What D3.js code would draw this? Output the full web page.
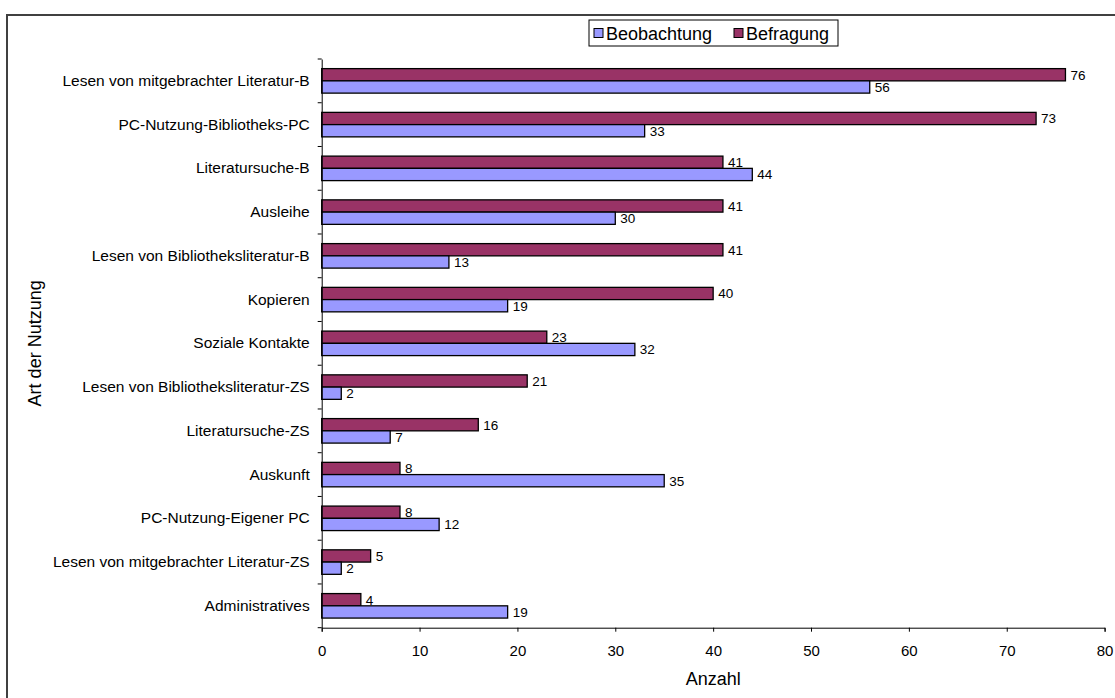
<!DOCTYPE html>
<html>
<head>
<meta charset="utf-8">
<script src="https://cdn.jsdelivr.net/npm/d3@7"></script>
<style>
  html, body { margin: 0; padding: 0; background: #fff; }
  svg { display: block; }
  text { font-family: "Liberation Sans", Arial, sans-serif; fill: #000; }
</style>
</head>
<body>
<svg id="chart" width="1115" height="698"></svg>
<script>
// Nutzungsarten (top to bottom)
const categories = [
  "Lesen von mitgebrachter Literatur-B",
  "PC-Nutzung-Bibliotheks-PC",
  "Literatursuche-B",
  "Ausleihe",
  "Lesen von Bibliotheksliteratur-B",
  "Kopieren",
  "Soziale Kontakte",
  "Lesen von Bibliotheksliteratur-ZS",
  "Literatursuche-ZS",
  "Auskunft",
  "PC-Nutzung-Eigener PC",
  "Lesen von mitgebrachter Literatur-ZS",
  "Administratives"
];
const befragung   = [76, 73, 41, 41, 41, 40, 23, 21, 16, 8, 8, 5, 4];
const beobachtung = [56, 33, 44, 30, 13, 19, 32, 2, 7, 35, 12, 2, 19];
const seriesNames = ["Befragung", "Beobachtung"];
const legendOrder = ["Beobachtung", "Befragung"];
const xTicks = [0, 10, 20, 30, 40, 50, 60, 70, 80];
const xTitle = "Anzahl";
const yTitle = "Art der Nutzung";

const colors = { Beobachtung: "#9999ff", Befragung: "#993366" };
const valuesBySeries = { Befragung: befragung, Beobachtung: beobachtung };

const svg = d3.select("#chart");

// outer chart frame
svg.append("rect")
  .attr("x", 7).attr("y", 15)
  .attr("width", 1130).attr("height", 700)
  .attr("fill", "none").attr("stroke", "#404040").attr("stroke-width", 2);

const plot = { left: 321.7, right: 1104.6, top: 59, bottom: 627.7 };

const x = d3.scaleLinear().domain([0, 80]).range([plot.left, plot.right]);
const y = d3.scaleBand().domain(categories).range([plot.top, plot.bottom]).padding(0);
const inner = d3.scaleBand().domain(seriesNames)
  .range([y.bandwidth() * 0.22, y.bandwidth() * 0.78]).padding(0);

// bars
const rows = svg.append("g").selectAll("g.row")
  .data(categories.map((c, i) => ({ c, i })))
  .join("g")
  .attr("transform", d => `translate(0,${y(d.c)})`);

rows.selectAll("rect")
  .data(d => seriesNames.map(s => ({ s, v: valuesBySeries[s][d.i] })))
  .join("rect")
  .attr("x", x(0))
  .attr("y", d => inner(d.s))
  .attr("width", d => x(d.v) - x(0))
  .attr("height", inner.bandwidth())
  .attr("fill", d => colors[d.s])
  .attr("stroke", "#000")
  .attr("stroke-width", 1.3);

rows.selectAll("text.val")
  .data(d => seriesNames.map(s => ({ s, v: valuesBySeries[s][d.i] })))
  .join("text")
  .attr("class", "val")
  .attr("x", d => x(d.v) + 5)
  .attr("y", d => inner(d.s) + inner.bandwidth() / 2)
  .attr("dy", "0.36em")
  .attr("font-size", 13.5)
  .text(d => d.v);

// category axis
const yAxis = svg.append("g")
  .attr("transform", `translate(${plot.left},0)`)
  .call(d3.axisLeft(y).tickSize(0).tickPadding(12));
yAxis.select(".domain").attr("stroke", "#000");
yAxis.selectAll("text").attr("font-size", 15.5).attr("font-family", "Liberation Sans, Arial, sans-serif").attr("fill", "#000");
// ticks between categories
const bounds = categories.map(c => y(c)).concat([plot.bottom]);
svg.append("g").selectAll("line")
  .data(bounds)
  .join("line")
  .attr("x1", plot.left - 4).attr("x2", plot.left)
  .attr("y1", d => d).attr("y2", d => d)
  .attr("stroke", "#000");

// value axis
const xAxis = svg.append("g")
  .attr("transform", `translate(0,${plot.bottom})`)
  .call(d3.axisBottom(x).tickValues(xTicks).tickSize(4).tickPadding(14).tickFormat(d3.format("d")));
xAxis.select(".domain").attr("stroke", "#000");
xAxis.selectAll("line").attr("stroke", "#000");
xAxis.selectAll("text").attr("font-size", 15).attr("font-family", "Liberation Sans, Arial, sans-serif").attr("fill", "#000");

// axis titles
svg.append("text")
  .attr("x", (plot.left + plot.right) / 2).attr("y", 685)
  .attr("text-anchor", "middle").attr("font-size", 18)
  .text(xTitle);
svg.append("text")
  .attr("transform", `translate(41,${(plot.top + plot.bottom) / 2}) rotate(-90)`)
  .attr("text-anchor", "middle").attr("font-size", 18)
  .text(yTitle);

// legend
const legend = svg.append("g");
legend.append("rect")
  .attr("x", 589).attr("y", 20).attr("width", 249).attr("height", 26)
  .attr("fill", "#fff").attr("stroke", "#000").attr("stroke-width", 1);
const legendX = { Beobachtung: 594, Befragung: 734 };
legendOrder.forEach(s => {
  legend.append("rect")
    .attr("x", legendX[s]).attr("y", 28.5).attr("width", 9).attr("height", 9)
    .attr("fill", colors[s]).attr("stroke", "#000").attr("stroke-width", 1);
  legend.append("text")
    .attr("x", legendX[s] + 12).attr("y", 39.5)
    .attr("font-size", 18)
    .text(s);
});
</script>
</body>
</html>
